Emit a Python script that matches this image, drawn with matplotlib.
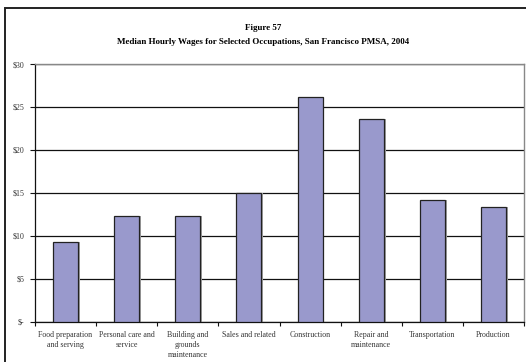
import matplotlib
matplotlib.use("Agg")
import matplotlib.pyplot as plt
from matplotlib.patches import Rectangle
from matplotlib.ticker import FixedLocator, FuncFormatter

categories = [
    "Food preparation\nand serving",
    "Personal care and\nservice",
    "Building and\ngrounds\nmaintenance",
    "Sales and related",
    "Construction",
    "Repair and\nmaintenance",
    "Transportation",
    "Production",
]
wages = [9.3, 12.25, 12.25, 14.95, 26.15, 23.55, 14.2, 13.4]
y_ticks = [0, 5, 10, 15, 20, 25, 30]

W, H = 526, 362
fig = plt.figure(figsize=(W / 100, H / 100), dpi=100)
fig.patch.set_facecolor("white")
plt.rcParams["font.family"] = ["Liberation Serif", "DejaVu Serif"]

# outer frame (runs off the right and bottom edges)
fig.add_artist(Rectangle((5 / W, -0.05), 1.1, 1 - 8 / H + 0.05,
                         transform=fig.transFigure, fill=False,
                         edgecolor="#222222", linewidth=1.4))

fig.text(0.5, 1 - 28 / H, "Figure 57", ha="center", va="center",
         fontsize=6.5, fontweight="bold")
fig.text(0.5, 1 - 42 / H,
         "Median Hourly Wages for Selected Occupations, San Francisco PMSA, 2004",
         ha="center", va="center", fontsize=6.5, fontweight="bold")

left, right = 35 / W, 524 / W
bottom, top = 1 - 321.7 / H, 1 - 64 / H
ax = fig.add_axes([left, bottom, right - left, top - bottom])

x = list(range(len(categories)))
# soft drop shadow on each bar, then the bar itself
ax.bar([i + 0.03 for i in x], wages, width=0.41, color="#a0a0a0",
       edgecolor="none", zorder=2)
ax.bar(x, wages, width=0.41, color="#9999CC", edgecolor="#222222",
       linewidth=0.9, zorder=3)

ax.set_xlim(-0.5, len(categories) - 0.5)
ax.set_ylim(0, 30)
ax.yaxis.set_major_locator(FixedLocator(y_ticks))
ax.yaxis.set_major_formatter(FuncFormatter(
    lambda v, p: "$-" if v == 0 else f"${int(v)}"))
ax.grid(axis="y", color="#111111", linewidth=0.9, zorder=1)
ax.set_axisbelow(True)

ax.set_xticks([i + 0.5 for i in range(-1, len(categories))])
ax.set_xticklabels([])
ax.set_xticks(x, minor=True)
ax.set_xticklabels(categories, minor=True, fontsize=5.7, color="#333333",
                   linespacing=1.35)
ax.tick_params(axis="x", which="minor", length=0, pad=6.5)
ax.tick_params(axis="x", which="major", length=3, direction="out",
               color="#111111", width=0.8)
ax.tick_params(axis="y", length=3.5, direction="out", labelsize=5.7,
               labelcolor="#333333", color="#111111", width=0.8, pad=4)

for s in ["top", "right"]:
    ax.spines[s].set_color("#888888")
    ax.spines[s].set_linewidth(1.0)
for s in ["left", "bottom"]:
    ax.spines[s].set_color("#111111")
    ax.spines[s].set_linewidth(0.9)

fig.savefig("out.png", dpi=100, facecolor="white")
